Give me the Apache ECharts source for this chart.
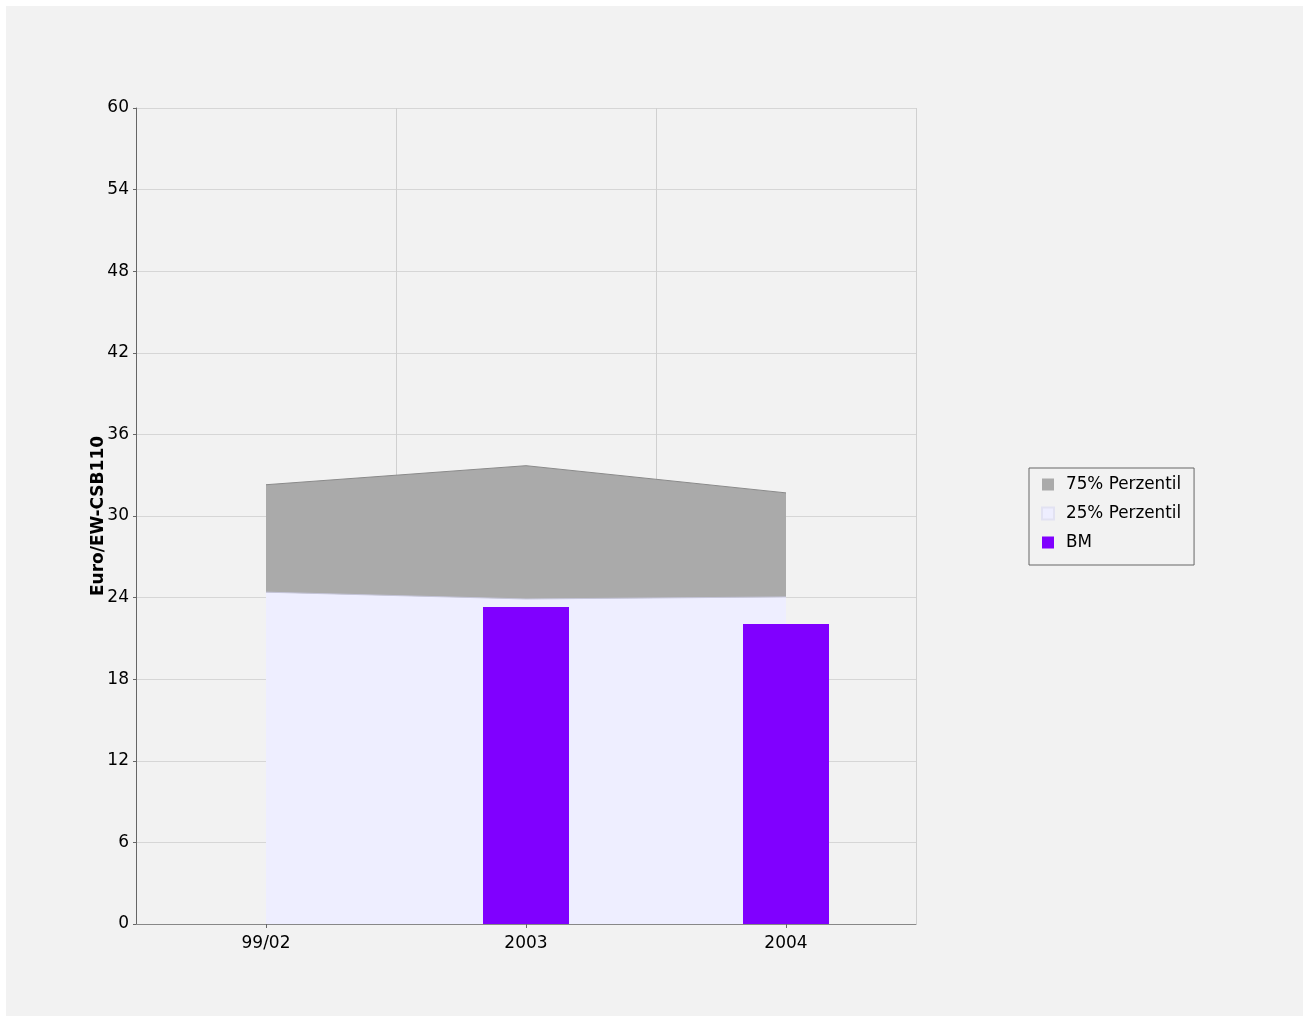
<!DOCTYPE html>
<html>
<head>
<meta charset="utf-8">
<script src="https://cdn.jsdelivr.net/npm/echarts@6/dist/echarts.min.js"></script>
<style>
html,body{margin:0;padding:0;background:#ffffff;width:1309px;height:1021px;overflow:hidden;}
#chart{position:absolute;left:6px;top:6px;width:1297px;height:1010px;background:#f2f2f2;}
</style>
</head>
<body>
<div id="chart"></div>
<script>
const categories = ['99/02', '2003', '2004'];
const p75 = [32.3, 33.7, 31.7];
const p25 = [24.4, 23.9, 24.05];
const bm = [null, 23.3, 22.05];
const yTicks = [0, 6, 12, 18, 24, 30, 36, 42, 48, 54, 60];
const yName = 'Euro/EW-CSB110';
const seriesNames = ['75% Perzentil', '25% Perzentil', 'BM'];

const font = 'DejaVu Sans';
const chart = echarts.init(document.getElementById('chart'), null, {renderer: 'canvas'});
chart.setOption({
  backgroundColor: '#f2f2f2',
  animation: false,
  textStyle: {fontFamily: font},
  grid: {left: 130, top: 102, right: 387, bottom: 92, containLabel: false},
  legend: {
    orient: 'vertical',
    left: 1023, top: 462,
    padding: [8, 13, 14, 12],
    itemWidth: 12, itemHeight: 12, itemGap: 12,
    borderColor: '#666666', borderWidth: 1,
    icon: 'rect',
    textStyle: {fontFamily: font, fontSize: 16.8, color: '#000', padding: [0, 0, 0, 7]},
    data: seriesNames
  },
  xAxis: {
    type: 'category',
    data: categories,
    boundaryGap: true,
    axisLine: {lineStyle: {color: '#888888', width: 1}},
    axisTick: {show: true, alignWithLabel: true, length: 4, lineStyle: {color: '#666666'}},
    axisLabel: {fontFamily: font, fontSize: 17, color: '#000', margin: 11},
    splitLine: {show: true, lineStyle: {color: '#d0d0d0', width: 1}}
  },
  yAxis: {
    type: 'value',
    min: yTicks[0], max: yTicks[yTicks.length - 1], interval: yTicks[1] - yTicks[0],
    name: yName,
    nameLocation: 'middle',
    nameGap: 29,
    nameMoveOverlap: false,
    nameTextStyle: {fontFamily: font, fontSize: 17, fontWeight: 'bold', color: '#000'},
    axisLine: {show: true, lineStyle: {color: '#666666', width: 1}},
    axisTick: {show: true, length: 3, lineStyle: {color: '#666666'}},
    axisLabel: {fontFamily: font, fontSize: 17, color: '#000', margin: 7, padding: [3, 0, 0, 0]},
    splitLine: {show: true, lineStyle: {color: '#d6d6d6', width: 1}}
  },
  series: [
    {
      name: seriesNames[0], type: 'line', data: p75, symbol: 'none',
      itemStyle: {color: '#aaaaaa'},
      lineStyle: {color: '#8a8a8a', width: 1},
      areaStyle: {color: '#aaaaaa', opacity: 1},
      z: 2
    },
    {
      name: seriesNames[1], type: 'line', data: p25, symbol: 'none',
      itemStyle: {color: '#eeeeff', borderColor: '#e2e2f2', borderWidth: 1},
      lineStyle: {color: '#c4c4d8', width: 1},
      areaStyle: {color: '#eeeeff', opacity: 1},
      z: 3
    },
    {
      name: seriesNames[2], type: 'bar', data: bm, barWidth: 86,
      itemStyle: {color: '#8000ff'},
      z: 4
    }
  ]
});
</script>
</body>
</html>
